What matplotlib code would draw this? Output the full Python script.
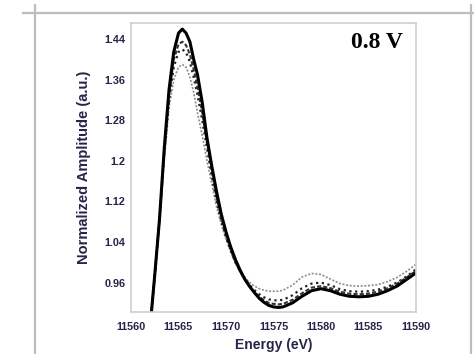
import matplotlib.pyplot as plt
from matplotlib.lines import Line2D

# Ni K-edge XANES spectra at 0.8 V
energy = [11562.0, 11562.5, 11563.0, 11563.5, 11564.0, 11564.5, 11565.0,
          11565.4, 11565.8, 11566.2, 11566.6,
          11567.0, 11567.5, 11568.0, 11568.5, 11569.0, 11569.5, 11570.0,
          11570.5, 11571.0, 11571.5, 11572.0, 11572.5, 11573.0, 11573.5,
          11574.0, 11574.5, 11575.0, 11575.5, 11576.0,
          11577.0, 11578.0, 11579.0, 11580.0, 11581.0, 11582.0, 11583.0,
          11584.0, 11585.0, 11586.0, 11587.0, 11588.0, 11589.0, 11590.0]

amp_solid = [0.87, 0.975, 1.085, 1.225, 1.34, 1.415, 1.452,
             1.46, 1.452, 1.435, 1.40,
             1.37, 1.315, 1.245, 1.19, 1.14, 1.095, 1.06,
             1.03, 1.005, 0.984, 0.966, 0.952, 0.94, 0.929,
             0.921, 0.915, 0.912, 0.911, 0.912,
             0.92, 0.933, 0.944, 0.948, 0.944, 0.937, 0.933,
             0.932, 0.933, 0.937, 0.944, 0.953, 0.966, 0.979]

amp_dash = [0.87, 0.975, 1.085, 1.22, 1.33, 1.40, 1.43,
            1.435, 1.428, 1.41, 1.38,
            1.345, 1.295, 1.235, 1.18, 1.13, 1.088, 1.053,
            1.025, 1.0, 0.981, 0.965, 0.952, 0.941, 0.932,
            0.925, 0.92, 0.918, 0.917, 0.918,
            0.926, 0.939, 0.95, 0.953, 0.949, 0.942, 0.938,
            0.937, 0.938, 0.942, 0.949, 0.958, 0.97, 0.983]

amp_dot = [0.87, 0.975, 1.085, 1.215, 1.32, 1.385, 1.415,
           1.42, 1.414, 1.395, 1.365,
           1.33, 1.28, 1.225, 1.17, 1.122, 1.082, 1.05,
           1.023, 1.0, 0.982, 0.967, 0.955, 0.945, 0.937,
           0.931, 0.927, 0.925, 0.925, 0.926,
           0.935, 0.949, 0.958, 0.96, 0.955, 0.947, 0.943,
           0.942, 0.943, 0.946, 0.952, 0.96, 0.972, 0.986]

amp_grey = [0.87, 0.975, 1.08, 1.2, 1.305, 1.36, 1.385,
            1.39, 1.385, 1.365, 1.335,
            1.295, 1.25, 1.2, 1.155, 1.11, 1.075, 1.045,
            1.02, 0.998, 0.982, 0.97, 0.96, 0.953, 0.948,
            0.945, 0.943, 0.943, 0.943, 0.945,
            0.955, 0.971, 0.978, 0.976, 0.967, 0.958, 0.954,
            0.953, 0.954, 0.956, 0.962, 0.97, 0.982, 0.996]

xticks = [11560, 11565, 11570, 11575, 11580, 11585, 11590]
yticks = [0.96, 1.04, 1.12, 1.2, 1.28, 1.36, 1.44]
ytick_labels = ['0.96', '1.04', '1.12', '1.2', '1.28', '1.36', '1.44']

plt.rcParams['font.family'] = ['Liberation Sans', 'DejaVu Sans']

fig = plt.figure(figsize=(4.74, 3.54), dpi=100)
ax = fig.add_axes([131/474, 1 - 312/354, 285/474, 289/354])

ax.plot(energy, amp_grey, color='#8c8c8c', lw=1.2, ls=(0, (1.2, 1.0)))
ax.plot(energy, amp_dot, color='#222222', lw=1.6, ls=(0, (1.0, 1.6)))
ax.plot(energy, amp_dash, color='#333333', lw=1.5, ls=(0, (2.0, 1.0)))
ax.plot(energy, amp_solid, color='black', lw=2.2)

ax.set_xlim(11560, 11590)
ax.set_ylim(0.902, 1.472)
ax.set_xticks(xticks, labels=[str(t) for t in xticks])
ax.set_yticks(yticks, labels=ytick_labels)
ax.tick_params(length=0, labelsize=7.8, colors='#25254a')
ax.tick_params(axis='x', pad=7)
ax.tick_params(axis='y', pad=4)
for lab in ax.get_xticklabels() + ax.get_yticklabels():
    lab.set_fontweight('bold')

for sp in ax.spines.values():
    sp.set_color('#cfcfcf')
    sp.set_linewidth(1.2)

ax.set_xlabel('Energy (eV)', fontsize=10, fontweight='bold', color='#25254a')
ax.set_ylabel('Normalized Amplitude (a.u.)', fontsize=10.5, fontweight='bold',
              color='#25254a')
ax.xaxis.set_label_coords(0.5, -0.09)
ax.yaxis.set_label_coords(-0.14, 0.5)

ax.text(0.954, 0.913, '0.8 V', transform=ax.transAxes, ha='right',
        va='baseline', fontsize=17, fontweight='bold',
        family='Liberation Serif')

# page frame lines around the chart
fig.add_artist(Line2D([23/474, 1.0], [1 - 13/354, 1 - 13/354],
                      color='#bdbdbd', lw=1.6))
fig.add_artist(Line2D([35/474, 35/474], [0, 1 - 5/354],
                      color='#bdbdbd', lw=1.6))
fig.add_artist(Line2D([471/474, 471/474], [0, 1 - 5/354],
                      color='#bdbdbd', lw=1.6))

fig.savefig('out.png', dpi=100)
